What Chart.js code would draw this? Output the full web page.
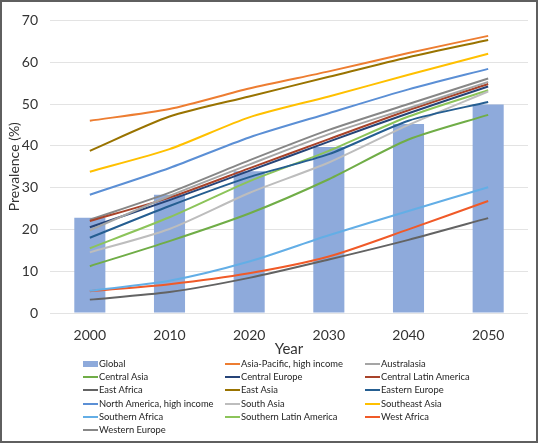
<!DOCTYPE html>
<html>
<head>
<meta charset="utf-8">
<script src="https://cdn.jsdelivr.net/npm/chart.js@4"></script>
<style>
  body { margin: 0; background: #fff; font-family: Lato, "Open Sans", sans-serif; }
  #wrap { position: absolute; left: 0; top: 0; width: 538px; height: 362px; }
  #frame { position: absolute; left: 0; top: 0; width: 538px; height: 443px; box-sizing: border-box; border: 2px solid #5f5f5f; pointer-events: none; }
  #legend { position: absolute; left: 0; top: 0; width: 538px; height: 443px; font-size: 9.4px; color: #1e1e1e; }
  .item { position: absolute; height: 13px; line-height: 13px; white-space: nowrap; }
  .swatch { position: absolute; left: 0; top: 6px; width: 15px; height: 2px; }
  .txt { position: absolute; left: 16px; top: 0; }
</style>
</head>
<body>
<div id="wrap"><canvas id="chart"></canvas></div>
<div id="legend"></div>
<div id="frame"></div>
<script>
// data
const years = ["2000", "2010", "2020", "2030", "2040", "2050"];
const globalPrev = [22.8, 28.3, 33.9, 39.7, 45.2, 49.9];
const asiaPacificHigh = [46.0, 48.8, 53.7, 57.8, 62.2, 66.3];
const australasia = [19.8, 28.0, 35.5, 42.8, 49.0, 55.3];
const centralAsia = [11.2, 17.2, 23.8, 32.0, 41.5, 47.4];
const centralEurope = [20.5, 27.0, 34.0, 41.0, 47.8, 54.2];
const centralLatinAmerica = [22.0, 27.6, 34.6, 41.6, 48.5, 54.8];
const eastAfrica = [3.2, 5.0, 8.4, 12.8, 17.5, 22.7];
const eastAsia = [38.8, 47.0, 51.8, 56.5, 61.2, 65.3];
const easternEurope = [18.0, 25.6, 32.5, 38.0, 46.0, 50.5];
const northAmericaHigh = [28.3, 34.7, 42.0, 47.8, 53.5, 58.4];
const southAsia = [14.5, 20.1, 28.7, 36.0, 45.0, 53.0];
const southeastAsia = [33.8, 39.2, 46.8, 51.8, 57.0, 62.0];
const southernAfrica = [5.3, 7.7, 12.3, 18.6, 24.4, 30.1];
const southernLatinAmerica = [15.5, 22.9, 31.5, 38.8, 47.0, 53.3];
const westAfrica = [5.2, 6.9, 9.5, 13.5, 20.0, 26.8];
const westernEurope = [22.3, 28.8, 36.5, 43.8, 50.0, 56.1];

const regions = [
  ["Asia-Pacific, high income", asiaPacificHigh, "#ed7d31"],
  ["Australasia", australasia, "#a5a5a5"],
  ["Central Asia", centralAsia, "#70ad47"],
  ["Central Europe", centralEurope, "#264478"],
  ["Central Latin America", centralLatinAmerica, "#a8432a"],
  ["East Africa", eastAfrica, "#636363"],
  ["East Asia", eastAsia, "#997300"],
  ["Eastern Europe", easternEurope, "#255e91"],
  ["North America, high income", northAmericaHigh, "#5b8fd5"],
  ["South Asia", southAsia, "#bdbdbd"],
  ["Southeast Asia", southeastAsia, "#ffc000"],
  ["Southern Africa", southernAfrica, "#63aee6"],
  ["Southern Latin America", southernLatinAmerica, "#8cc45a"],
  ["West Africa", westAfrica, "#f05a28"],
  ["Western Europe", westernEurope, "#878787"],
];

const datasets = [
  {
    type: "bar",
    label: "Global",
    data: globalPrev,
    backgroundColor: "#8eaadb",
    categoryPercentage: 1,
    barPercentage: 0.39,
    order: 2,
  },
].concat(
  regions.map(([name, values, color]) => ({
    type: "line",
    label: name,
    data: values,
    borderColor: color,
    backgroundColor: color,
    borderWidth: 2,
    pointRadius: 0,
    tension: 0.25,
    order: 1,
  }))
);

Chart.defaults.font.family = "Lato, 'Open Sans', sans-serif";
Chart.defaults.color = "#333";

const chart = new Chart(document.getElementById("chart").getContext("2d"), {
  data: { labels: years, datasets: datasets },
  options: {
    responsive: true,
    maintainAspectRatio: false,
    animation: false,
    layout: { padding: { top: 13, right: 10, left: 0, bottom: 0 } },
    plugins: { legend: { display: false }, tooltip: { enabled: false } },
    scales: {
      x: {
        grid: { display: false },
        border: { display: false },
        ticks: { font: { size: 14 }, padding: 6 },
        title: { display: true, text: "Year", font: { size: 15 }, padding: { top: 0, bottom: 4 } },
        afterFit: (s) => { s.height = 49; },
      },
      y: {
        min: 0,
        max: 70,
        grid: { color: "#e3e3e3", drawTicks: false },
        border: { display: false },
        ticks: { stepSize: 10, font: { size: 14 }, padding: 12 },
        title: { display: true, text: "Prevalence (%)", font: { size: 14 }, padding: { top: 6, bottom: 0 } },
        afterFit: (s) => { s.width = 50; },
      },
    },
  },
});

// legend laid out in three columns like the original
const legendEl = document.getElementById("legend");
const colX = [83, 225, 365];
chart.data.datasets.forEach((ds, i) => {
  const item = document.createElement("div");
  item.className = "item";
  item.style.left = colX[i % 3] + "px";
  item.style.top = (357 + Math.floor(i / 3) * 13.2) + "px";
  const sw = document.createElement("div");
  sw.className = "swatch";
  sw.style.background = ds.type === "bar" ? ds.backgroundColor : ds.borderColor;
  if (ds.type === "bar") { sw.style.height = "6px"; sw.style.top = "4px"; }
  const txt = document.createElement("span");
  txt.className = "txt";
  txt.textContent = ds.label;
  item.appendChild(sw);
  item.appendChild(txt);
  legendEl.appendChild(item);
});
</script>
</body>
</html>
